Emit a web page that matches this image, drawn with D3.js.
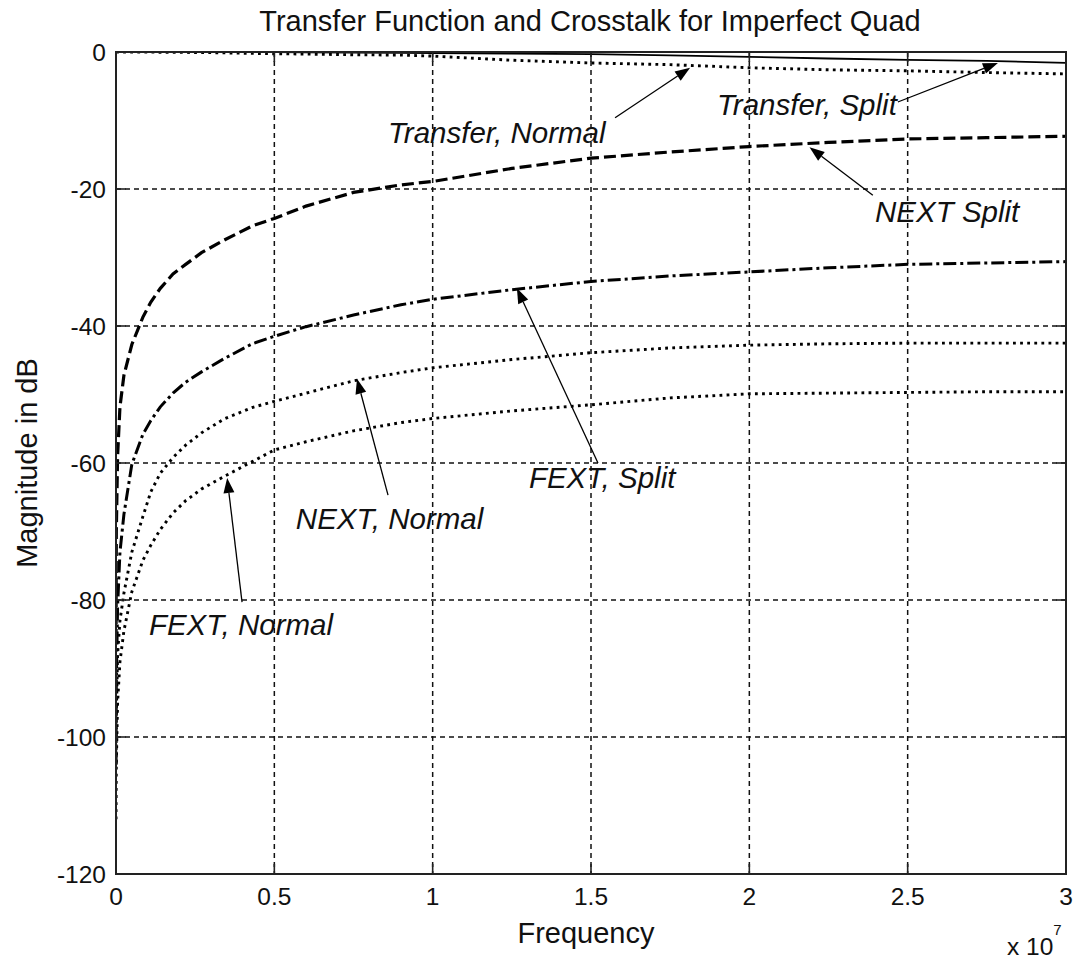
<!DOCTYPE html>
<html>
<head>
<meta charset="utf-8">
<script src="https://cdn.jsdelivr.net/npm/d3@7"></script>
<style>
  body { margin: 0; background: #fff; }
  svg { display: block; font-family: 'Liberation Sans', Arial, sans-serif; }
  .tick-label { font-size: 24.5px; fill: #111; }
  .label { font-size: 29px; fill: #111; }
  .note { font-size: 29.5px; font-style: italic; fill: #111; }
  .grid line { stroke: #111; stroke-width: 1.5; stroke-dasharray: 5 4; }
</style>
</head>
<body>
<svg id="chart" width="1077" height="962"></svg>
<script>
// frequency samples, in units of 1e7 Hz
const freq = [0.0001, 0.001, 0.005, 0.0125, 0.025, 0.05, 0.085, 0.11, 0.14, 0.18, 0.22, 0.27, 0.34, 0.43,
  0.5, 0.6, 0.75, 0.9, 1.0, 1.25, 1.5, 1.75, 2.0, 2.25, 2.5, 2.75, 3.0];

// magnitudes in dB
const transferSplit = [0, 0, 0, 0, 0, 0, 0, 0, 0, 0, 0, 0, 0, 0,
  0, -0.05, -0.1, -0.12, -0.15, -0.25, -0.3, -0.5, -0.7, -0.95, -1.15, -1.3, -1.6];
const transferNormal = [0, 0, 0, 0, 0, 0, 0, -0.02, -0.03, -0.05, -0.06, -0.08, -0.12, -0.2,
  -0.25, -0.3, -0.4, -0.45, -0.6, -1.2, -1.6, -1.85, -2.3, -2.6, -2.75, -3.0, -3.2];
const nextSplit = [-86, -70, -59, -51.8, -47.2, -42.7, -38.7, -36.5, -34.5, -32.4, -31.0, -29.3, -27.5, -25.4,
  -24.3, -22.5, -20.5, -19.4, -18.9, -17.0, -15.5, -14.6, -13.8, -13.2, -12.7, -12.5, -12.3];
const fextSplit = [-104, -92, -81, -73, -67.5, -60.2, -55.8, -53.8, -51.8, -49.8, -48.2, -46.7, -44.8, -42.6,
  -41.5, -40.1, -38.4, -36.9, -36.1, -34.7, -33.5, -32.7, -32.1, -31.5, -31.0, -30.8, -30.6];
const nextNormal = [-104, -97, -88, -83, -79, -73, -67.8, -64.2, -61.5, -59.2, -57.4, -55.6, -53.6, -51.9,
  -51.0, -49.8, -48.0, -46.8, -46.1, -44.9, -43.9, -43.2, -42.8, -42.6, -42.5, -42.5, -42.5];
const fextNormal = [-112, -104, -95, -89, -84.5, -78.8, -74.2, -72, -69.7, -67.3, -65.5, -63.8, -62.0, -59.8,
  -58.1, -56.9, -55.3, -54.1, -53.5, -52.4, -51.5, -50.5, -49.9, -49.8, -49.7, -49.6, -49.6];

const xTicks = [0, 0.5, 1, 1.5, 2, 2.5, 3];
const yTicks = [0, -20, -40, -60, -80, -100, -120];

// annotations: label, text anchor [f, dB], arrow start, arrow tip
const notes = [
  { text: 'Transfer, Normal', at: [0.859, -13.3], from: [1.576, -9.6], to: [1.813, -2.3] },
  { text: 'Transfer, Split', at: [1.898, -9.2], from: [2.469, -7.3], to: [2.785, -1.6] },
  { text: 'NEXT Split', at: [2.397, -24.8], from: [2.39, -20.9], to: [2.19, -13.9] },
  { text: 'FEXT, Split', at: [1.304, -63.6], from: [1.522, -60.0], to: [1.266, -34.5] },
  { text: 'NEXT, Normal', at: [0.568, -69.6], from: [0.859, -64.7], to: [0.761, -47.7] },
  { text: 'FEXT, Normal', at: [0.104, -85.1], from: [0.398, -80.3], to: [0.351, -62.2] },
];

const series = [
  { values: transferSplit, dash: null, width: 1.8 },
  { values: transferNormal, dash: '2.8 4.3', width: 2.9 },
  { values: nextSplit, dash: '12 5', width: 3.2 },
  { values: fextSplit, dash: '13 4 3 4', width: 3 },
  { values: nextNormal, dash: '2.8 4.3', width: 2.9 },
  { values: fextNormal, dash: '2.8 4.3', width: 2.9 },
];

const svg = d3.select('#chart');
const marginLeft = 116, marginTop = 52, width = 950, height = 822;
const chart = svg.append('g').attr('transform', `translate(${marginLeft}, ${marginTop})`);

const xScale = d3.scaleLinear().domain([0, 3]).range([0, width]);
const yScale = d3.scaleLinear().domain([-120, 0]).range([height, 0]);

// grid
chart.append('g').attr('class', 'grid')
  .selectAll('line').data(xTicks.slice(1, -1)).enter().append('line')
  .attr('x1', d => xScale(d)).attr('x2', d => xScale(d))
  .attr('y1', 0).attr('y2', height);
chart.append('g').attr('class', 'grid')
  .selectAll('line').data(yTicks.slice(1, -1)).enter().append('line')
  .attr('y1', d => yScale(d)).attr('y2', d => yScale(d))
  .attr('x1', 0).attr('x2', width);

// curves
svg.append('defs').append('clipPath').attr('id', 'plot')
  .append('rect').attr('width', width).attr('height', height);

const line = d3.line().x(d => xScale(d[0])).y(d => yScale(d[1]));
chart.append('g').attr('clip-path', 'url(#plot)')
  .selectAll('path').data(series).enter().append('path')
  .attr('d', s => line(freq.map((f, i) => [f, s.values[i]])))
  .attr('fill', 'none')
  .attr('stroke', '#000')
  .attr('stroke-width', s => s.width)
  .attr('stroke-dasharray', s => s.dash);

// axis box and inward ticks
chart.append('rect')
  .attr('width', width).attr('height', height)
  .attr('fill', 'none').attr('stroke', '#222').attr('stroke-width', 2);

const tickLen = 10;
const ticks = chart.append('g').attr('stroke', '#222').attr('stroke-width', 1.6);
xTicks.forEach(t => {
  ticks.append('line').attr('x1', xScale(t)).attr('x2', xScale(t)).attr('y1', height).attr('y2', height - tickLen);
  ticks.append('line').attr('x1', xScale(t)).attr('x2', xScale(t)).attr('y1', 0).attr('y2', tickLen);
});
yTicks.forEach(t => {
  ticks.append('line').attr('y1', yScale(t)).attr('y2', yScale(t)).attr('x1', 0).attr('x2', tickLen);
  ticks.append('line').attr('y1', yScale(t)).attr('y2', yScale(t)).attr('x1', width).attr('x2', width - tickLen);
});

chart.append('g').selectAll('text').data(xTicks).enter().append('text')
  .attr('class', 'tick-label')
  .attr('x', d => xScale(d)).attr('y', height + 31)
  .attr('text-anchor', 'middle')
  .text(d => d);
chart.append('g').selectAll('text').data(yTicks).enter().append('text')
  .attr('class', 'tick-label')
  .attr('x', -10).attr('y', d => yScale(d))
  .attr('dy', '0.36em')
  .attr('text-anchor', 'end')
  .text(d => d);

// titles
svg.append('text').attr('class', 'label')
  .attr('x', marginLeft + width / 2 - 1).attr('y', 31)
  .attr('text-anchor', 'middle')
  .text('Transfer Function and Crosstalk for Imperfect Quad');
svg.append('text').attr('class', 'label')
  .attr('x', marginLeft + width / 2 - 5).attr('y', 943)
  .attr('text-anchor', 'middle')
  .text('Frequency');
svg.append('text').attr('class', 'label')
  .attr('transform', `translate(37, ${marginTop + height / 2}) rotate(-90)`)
  .attr('text-anchor', 'middle')
  .text('Magnitude in dB');
const expo = svg.append('text').attr('class', 'tick-label').attr('x', 1007).attr('y', 955);
expo.append('tspan').text('x 10');
expo.append('tspan').attr('dy', -20).attr('font-size', 15).text('7');

// annotations with arrows
const noteG = chart.append('g');
notes.forEach(n => {
  const x1 = xScale(n.from[0]), y1 = yScale(n.from[1]);
  const x2 = xScale(n.to[0]), y2 = yScale(n.to[1]);
  const ang = Math.atan2(y2 - y1, x2 - x1);
  const len = 15, half = 5.5;
  const bx = x2 - len * Math.cos(ang), by = y2 - len * Math.sin(ang);
  noteG.append('line')
    .attr('x1', x1).attr('y1', y1).attr('x2', bx).attr('y2', by)
    .attr('stroke', '#000').attr('stroke-width', 1.3);
  noteG.append('path')
    .attr('d', `M${x2},${y2}L${bx + half * Math.sin(ang)},${by - half * Math.cos(ang)}` +
      `L${bx - half * Math.sin(ang)},${by + half * Math.cos(ang)}Z`)
    .attr('fill', '#000');
  noteG.append('text').attr('class', 'note')
    .attr('x', xScale(n.at[0])).attr('y', yScale(n.at[1]))
    .text(n.text);
});
</script>
</body>
</html>
